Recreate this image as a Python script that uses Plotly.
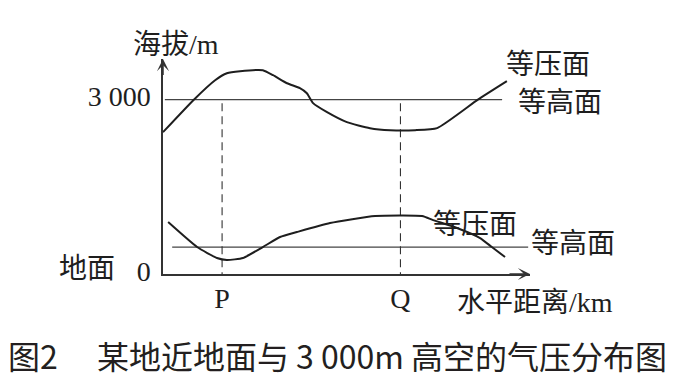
import plotly.graph_objects as go

# ---- data (x: horizontal distance in km, y: altitude in m) ----
upper_isobar_x = [0.0, 8.4, 14.2, 17.4, 21.0, 27.2, 30.0, 33.8, 37.3, 39.2, 40.9, 44.7, 50.1, 56.4, 61.9, 68.7, 74.7, 85.8, 93.7]
upper_isobar_y = [2441, 3000, 3335, 3455, 3490, 3507, 3421, 3283, 3198, 3111, 2940, 2785, 2613, 2510, 2475, 2475, 2510, 3000, 3318]

ground_isobar_x = [1.4, 9.3, 14.7, 17.4, 21.8, 27.2, 31.9, 36.5, 45.5, 57.8, 70.6, 73.6, 80.1, 86.4, 89.6, 93.2]
ground_isobar_y = [894, 464, 275, 241, 275, 464, 636, 722, 877, 997, 997, 928, 791, 619, 464, 292]

upper_level_x = [0.5, 92.4]
upper_level_y = [3000, 3000]
ground_level_x = [2.5, 99.5]
ground_level_y = [464, 464]

point_names = ["P", "Q"]
point_x = [16.1, 64.7]
dash_top_y = 2940

y_tick_vals = [0, 3000]
y_tick_text = ["0", "3 000"]

# ---- layout geometry (page has an 8px body margin) ----
OFF = 8
W, H = 684, 370
L, T = 163 - OFF, 59 - OFF
PW, PH = 367, 215
R, B = W - L - PW, H - T - PH
X_RANGE = [0, 100]
Y_RANGE = [0, 3700]


def px_x(px):
    return (px - OFF - L) / PW


def px_y(py):
    return (T + PH - (py - OFF)) / PH


SERIF = "Liberation Serif, 'Noto Sans CJK SC', serif"
CJK = "'Noto Sans CJK SC', sans-serif"
INK = "#1e1e1e"

fig = go.Figure()

fig.add_trace(go.Scatter(x=upper_level_x, y=upper_level_y, mode="lines",
                         line=dict(color="#444", width=1.2), hoverinfo="skip"))
fig.add_trace(go.Scatter(x=ground_level_x, y=ground_level_y, mode="lines",
                         line=dict(color="#444", width=1.2), hoverinfo="skip"))

for px_ in point_x:
    fig.add_trace(go.Scatter(x=[px_, px_], y=[dash_top_y, 0], mode="lines",
                             line=dict(color="#333", width=1.1, dash="8px,5px"),
                             hoverinfo="skip"))

fig.add_trace(go.Scatter(x=upper_isobar_x, y=upper_isobar_y, mode="lines",
                         line=dict(color=INK, width=2, shape="spline", smoothing=0.5),
                         hoverinfo="skip", cliponaxis=False))
fig.add_trace(go.Scatter(x=ground_isobar_x, y=ground_isobar_y, mode="lines",
                         line=dict(color=INK, width=2, shape="spline", smoothing=0.5),
                         hoverinfo="skip", cliponaxis=False))

# axis arrows
fig.add_annotation(x=X_RANGE[1], y=0, ax=X_RANGE[1] - 6, ay=0, xref="x", yref="y",
                   axref="x", ayref="y", showarrow=True, arrowhead=3, arrowsize=1.35,
                   arrowwidth=1.5, arrowcolor="#333", text="")
fig.add_annotation(x=0, y=Y_RANGE[1], ax=0, ay=Y_RANGE[1] - 300, xref="x", yref="y",
                   axref="x", ayref="y", showarrow=True, arrowhead=3, arrowsize=1.35,
                   arrowwidth=1.5, arrowcolor="#333", text="")


def label(text, px, py, anchor="left", font=SERIF, size=28, color=INK, height=None):
    fig.add_annotation(x=px_x(px), y=px_y(py), xref="paper", yref="paper",
                       text=text, showarrow=False, xanchor=anchor, yanchor="middle",
                       height=height,
                       font=dict(family=font, size=size, color=color))


label("海拔/m", 131, 45)
label("等压面", 504, 64)
label("等高面", 516, 102)
label("等压面", 431, 224)
label("等高面", 529, 243)
label("地面", 57, 268)
label("水平距离/km", 455, 302)

label("图2\u3000 某地近地面与 3 000m 高空的气压分布图", 6, 355, font=CJK, size=32,
      color="#231f20", height=40)

fig.update_layout(
    width=W, height=H, autosize=False,
    margin=dict(l=L, r=R, t=T, b=B, pad=0),
    paper_bgcolor="white", plot_bgcolor="white",
    showlegend=False,
    xaxis=dict(range=X_RANGE, showline=True, linecolor="#333", linewidth=1.5,
               showgrid=False, zeroline=False, ticks="", tickvals=point_x,
               ticktext=point_names, tickfont=dict(family=SERIF, size=28, color=INK),
               ticklabelstandoff=-1, fixedrange=True),
    yaxis=dict(range=Y_RANGE, showline=True, linecolor="#333", linewidth=1.5,
               showgrid=False, zeroline=False, ticks="", tickvals=y_tick_vals,
               ticktext=y_tick_text, tickfont=dict(family=SERIF, size=28, color=INK),
               ticklabelstandoff=5, ticklabelshift=-3, fixedrange=True),
)

fig.write_html("out.html")
